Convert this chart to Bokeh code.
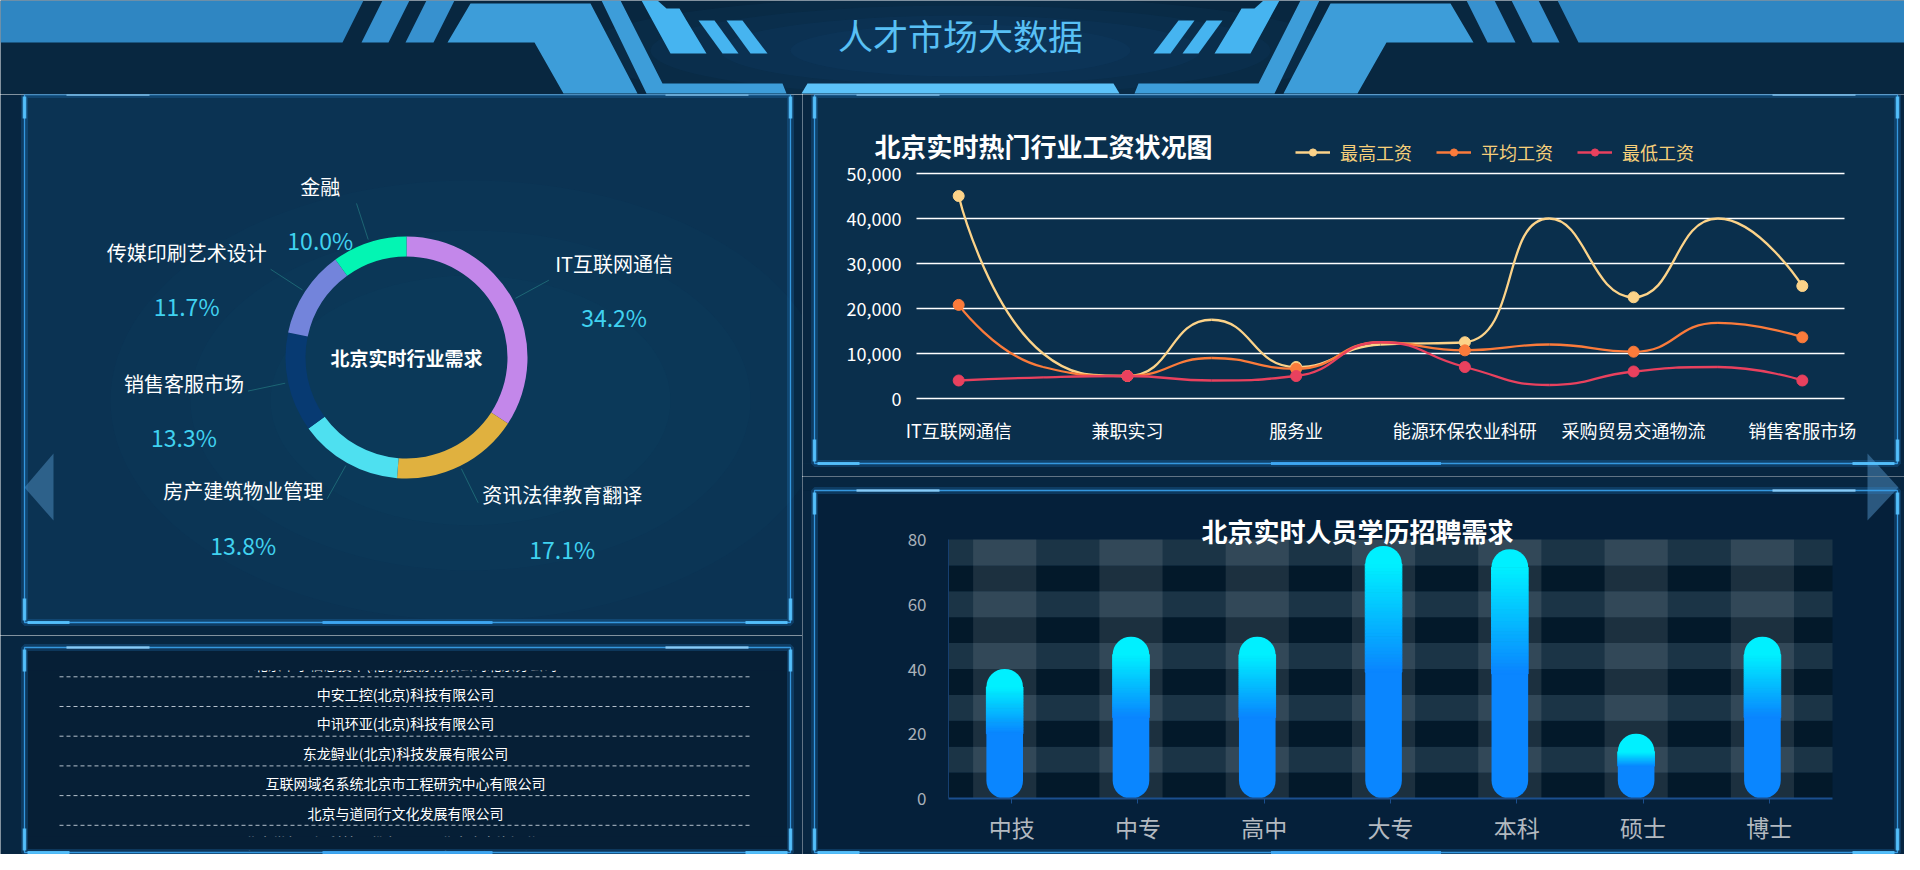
import math

from bokeh.core.properties import value
from bokeh.embed import file_html
from bokeh.layouts import column, row
from bokeh.models import (BoxAnnotation, FixedTicker, Label, Legend, LegendItem,
                          NumeralTickFormatter, PolyAnnotation, Range1d)
from bokeh.plotting import figure
from bokeh.resources import INLINE

FONT = "Noto Sans CJK SC"
PAGE_BG = "#072641"

# ---------------- data ----------------
page_title = "人才市场大数据"

industry_title = "北京实时行业需求"
industry_names = ["IT互联网通信", "资讯法律教育翻译", "房产建筑物业管理",
                  "销售客服市场", "传媒印刷艺术设计", "金融"]
industry_share = [34.2, 17.1, 13.8, 13.3, 11.7, 10.0]
industry_colors = ["#c387ea", "#e0b13f", "#4ee0f0", "#073a72", "#7384db", "#03f5b3"]

company_names = [
    "北京华宇信息技术(北京)股份有限公司北京分公司",
    "中安工控(北京)科技有限公司",
    "中讯环亚(北京)科技有限公司",
    "东龙鲟业(北京)科技发展有限公司",
    "互联网域名系统北京市工程研究中心有限公司",
    "北京与道同行文化发展有限公司",
    "北京世纪国源科技股份有限公司北京人力资源分公司",
]

salary_title = "北京实时热门行业工资状况图"
salary_categories = ["IT互联网通信", "金融", "兼职实习", "房产建筑物业管理", "服务业",
                     "传媒印刷艺术设计", "能源环保农业科研", "资讯法律教育翻译",
                     "采购贸易交通物流", "生产制造", "销售客服市场"]
salary_series = ["最高工资", "平均工资", "最低工资"]
salary_max = [45000, 10000, 5000, 17500, 7000, 12000, 12500, 40000, 22500, 40000, 25000]
salary_avg = [20800, 7000, 5000, 9000, 6600, 12500, 10700, 12000, 10400, 16800, 13600]
salary_min = [4000, 4700, 5000, 4000, 5000, 12500, 7000, 3000, 6000, 7000, 4000]
salary_colors = ["#fcd389", "#fb7b3b", "#e9415e"]
salary_ticks = [0, 10000, 20000, 30000, 40000, 50000]

edu_title = "北京实时人员学历招聘需求"
edu_levels = ["中技", "中专", "高中", "大专", "本科", "硕士", "博士"]
edu_demand = [40, 50, 50, 78, 77, 20, 50]
edu_ticks = [0, 20, 40, 60, 80]


# ---------------- helpers ----------------
def size_of(box):
    return box[2] - box[0], box[3] - box[1]


def screen_mapper(fig_box):
    # page pixel -> screen units of a figure whose frame fills the figure (y up)
    fx0, fy0, fx1, fy1 = fig_box
    h = fy1 - fy0

    def conv(X, Y):
        return X - fx0, h - (Y - fy0)
    return conv


def sbox(p, conv, x0, y0, x1, y1, **kw):
    l, t = conv(x0, y0)
    r, b = conv(x1, y1)
    p.add_layout(BoxAnnotation(left=l, right=r, top=t, bottom=b,
                               left_units="screen", right_units="screen",
                               top_units="screen", bottom_units="screen", **kw))


def spoly(p, conv, pts, color, alpha):
    xy = [conv(X, Y) for X, Y in pts]
    p.add_layout(PolyAnnotation(xs=[a for a, _ in xy], ys=[b for _, b in xy],
                                xs_units="screen", ys_units="screen",
                                fill_color=color, fill_alpha=alpha, line_color=None))


def cover_outside(p, conv, fig_box, pbox):
    fx0, fy0, fx1, fy1 = fig_box
    x0, y0, x1, y1 = pbox
    for r in [(fx0, fy0, fx1, y0), (fx0, y1, fx1, fy1), (fx0, y0, x0, y1), (x1, y0, fx1, y1)]:
        if r[2] > r[0] and r[3] > r[1]:
            sbox(p, conv, *r, fill_color=PAGE_BG, fill_alpha=1, line_color=None)


def panel_frame(p, conv, pbox):
    x0, y0, x1, y1 = pbox
    sbox(p, conv, x0, y0, x1, y1, fill_alpha=0, line_color="#2a8de0", line_alpha=0.22, line_width=7)
    sbox(p, conv, x0, y0, x1, y1, fill_alpha=0, line_color="#3aa2ec", line_alpha=0.9, line_width=1.3)
    acc = "#56c3ff"
    for xc in (x0, x1):
        sbox(p, conv, xc - 1.8, y0 + 2, xc + 1.8, y0 + 24, fill_color=acc, fill_alpha=0.9, line_color=None)
        sbox(p, conv, xc - 1.8, y1 - 24, xc + 1.8, y1 - 2, fill_color=acc, fill_alpha=0.9, line_color=None)
    sbox(p, conv, x0 + 42, y0 - 1.2, x0 + 125, y0 + 1.2, fill_color="#9ad8ff", fill_alpha=0.8, line_color=None)
    sbox(p, conv, x1 - 125, y0 - 1.2, x1 - 42, y0 + 1.2, fill_color="#9ad8ff", fill_alpha=0.8, line_color=None)
    sbox(p, conv, x0 + 3, y1 - 1.6, x0 + 45, y1 + 1.6, fill_color=acc, fill_alpha=0.9, line_color=None)
    sbox(p, conv, x1 - 45, y1 - 1.6, x1 - 3, y1 + 1.6, fill_color=acc, fill_alpha=0.9, line_color=None)
    mid = (x0 + x1) / 2
    sbox(p, conv, mid - 85, y1 - 1.6, mid + 85, y1 + 1.6, fill_color="#3fa9f5", fill_alpha=0.9, line_color=None)


def decor_fig(fig_box, bg):
    fx0, fy0, fx1, fy1 = fig_box
    w, h = size_of(fig_box)
    p = figure(width=w, height=h, x_range=Range1d(fx0, fx1),
               y_range=Range1d(fy1, fy0), x_axis_location=None, y_axis_location=None,
               title=None, output_backend="svg", toolbar_location=None, min_border=0)
    p.grid.visible = False
    p.outline_line_color = None
    p.background_fill_color = bg
    p.border_fill_color = bg
    return p


def chart_fig(fig_box, frame_box, xr, yr, bg):
    # the frame fills the figure; ranges are widened so that xr x yr lands on frame_box
    fx0, fy0, fx1, fy1 = fig_box
    w, h = size_of(fig_box)
    x0, y0, x1, y1 = frame_box
    pl, pr = x0 - fx0, x1 - fx0
    pt, pb = y0 - fy0, y1 - fy0
    ux = (xr[1] - xr[0]) / (pr - pl)
    uy = (yr[1] - yr[0]) / (pb - pt)
    p = figure(width=w, height=h,
               x_range=Range1d(xr[0] - pl * ux, xr[1] + (w - pr) * ux),
               y_range=Range1d(yr[0] - (h - pb) * uy, yr[1] + pt * uy),
               title=None, output_backend="svg", toolbar_location=None, min_border=0)
    p.background_fill_color = bg
    p.border_fill_color = bg
    p.outline_line_color = None
    p.grid.visible = False
    p.xaxis.fixed_location = yr[0]
    p.yaxis.fixed_location = xr[0]
    p.xaxis.bounds = xr
    p.yaxis.bounds = yr
    for ax in (p.xaxis, p.yaxis):
        ax.minor_tick_line_color = None
        ax.major_label_text_font = FONT
    return p, 1 / ux, 1 / uy


def text_width(s, size):
    return sum(size if ord(ch) > 0x2e80 else size * 0.56 for ch in s)


def smooth_beziers(ys, px_x, px_y, smooth=0.5):
    def clamp(v, a, b):
        return min(max(v, min(a, b)), max(a, b))
    pts = [(i * px_x, y * px_y) for i, y in enumerate(ys)]
    c_in, c_out = list(pts), list(pts)
    for i in range(1, len(pts) - 1):
        (xp, yp), (x, y), (xn, yn) = pts[i - 1], pts[i], pts[i + 1]
        vx, vy = xn - xp, yn - yp
        lp = math.hypot(x - xp, y - yp)
        ln = math.hypot(xn - x, yn - y)
        ratio = ln / (ln + lp)
        c1x = clamp(x + vx * smooth * ratio, x, xn)
        c1y = clamp(y + vy * smooth * ratio, y, yn)
        vx, vy = c1x - x, c1y - y
        c0x = clamp(x - vx * lp / ln, xp, x)
        c0y = clamp(y - vy * lp / ln, yp, y)
        vx, vy = x - c0x, y - c0y
        c1x, c1y = x + vx * ln / lp, y + vy * ln / lp
        c_in[i], c_out[i] = (c0x, c0y), (c1x, c1y)
    seg = dict(x0=[], y0=[], x1=[], y1=[], cx0=[], cy0=[], cx1=[], cy1=[])
    for i in range(len(pts) - 1):
        for k, (a, b) in zip(["0", "1"], [pts[i], pts[i + 1]]):
            seg["x" + k].append(a / px_x)
            seg["y" + k].append(b / px_y)
        seg["cx0"].append(c_out[i][0] / px_x)
        seg["cy0"].append(c_out[i][1] / px_y)
        seg["cx1"].append(c_in[i + 1][0] / px_x)
        seg["cy1"].append(c_in[i + 1][1] / px_y)
    return seg


# page pixels, 1904 x 854 in all
HEAD_BOX = (0, 0, 1904, 94)
DONUT_BOX = (0, 94, 802, 635)
TABLE_BOX = (0, 635, 802, 854)
LINE_BOX = (802, 94, 1904, 476)
BAR_BOX = (802, 476, 1904, 854)

# ---------------- header ----------------
hp = decor_fig(HEAD_BOX, "#082740")
for w, h in [(760, 110), (620, 90), (480, 70), (340, 52)]:
    hp.ellipse(x=960, y=50, width=w, height=h, fill_color="#2a7fc4", fill_alpha=0.05, line_color=None)

left_shapes = [
    ([0, 363, 342, 0], [0, 0, 42, 42], "#2f86c2"),
    ([382, 409, 388, 361], [0, 0, 42, 42], "#3791cf"),
    ([426, 454, 433, 405], [0, 0, 42, 42], "#3791cf"),
    ([470, 590, 637, 563, 534, 447], [3, 3, 93, 93, 42, 42], "#3d9dd9"),
    ([601, 620, 662, 782, 786, 646], [0, 0, 83, 83, 93, 93], "#3d9dd9"),
    ([641, 657, 666, 679, 686, 706, 670], [0, 0, 8, 8, 20, 53, 53], "#46b4f0"),
    ([698, 714, 738, 722], [20, 20, 53, 53], "#46b4f0"),
    ([726, 742, 767, 750], [20, 20, 53, 53], "#46b4f0"),
]
for xs, ys, c in left_shapes:
    hp.patch(xs, ys, fill_color=c, line_color=None)
    hp.patch([1920 - x for x in xs], ys, fill_color=c, line_color=None)
hp.patch([807, 1113, 1119, 801], [83, 83, 93, 93], fill_color="#5cc2f8", line_color=None)
hp.text(x=[960], y=[34], text=[page_title], text_font=value(FONT), text_font_size="35px",
        text_color="#58c0f5", text_align="center", text_baseline="middle")

# ---------------- donut panel ----------------
DONUT_PANEL = (24, 94, 790, 622)
dp = decor_fig(DONUT_BOX, PAGE_BG)
dconv = screen_mapper(DONUT_BOX)
dp.quad(left=DONUT_PANEL[0], right=DONUT_PANEL[2], top=DONUT_PANEL[1], bottom=DONUT_PANEL[3],
        fill_color="#0b3353", line_color=None)
for w, h in [(720, 440), (560, 340), (400, 250)]:
    dp.ellipse(x=470, y=400, width=w, height=h, fill_color="#1a5a8a", fill_alpha=0.05, line_color=None)

cx, cy = 406, 357
total = sum(industry_share)
starts, ends, mids = [], [], []
acc = 0.0
for s in industry_share:
    a0 = 90 - acc / total * 360
    acc += s
    a1 = 90 - acc / total * 360
    starts.append(math.radians(a0))
    ends.append(math.radians(a1))
    mids.append(math.radians((a0 + a1) / 2))
dp.annular_wedge(x=cx, y=cy, inner_radius=101, outer_radius=121,
                 inner_radius_units="screen", outer_radius_units="screen",
                 start_angle=starts, end_angle=ends, direction="clock",
                 fill_color=industry_colors, line_color=None)
dp.text(x=[cx], y=[cy], text=[industry_title], text_font=value(FONT), text_font_size="19px",
        text_font_style="bold", text_color="white", text_align="center", text_baseline="middle")

lx0, ly0, lx1, ly1 = [], [], [], []
nx, ny, px_, py_, ptxt = [], [], [], [], []
for name, share, m in zip(industry_names, industry_share, mids):
    c, s = math.cos(m), math.sin(m)
    lx0.append(cx + 124 * c)
    ly0.append(cy - 124 * s)
    ex, ey = cx + 162 * c, cy - 162 * s
    lx1.append(ex)
    ly1.append(ey)
    pct = f"{share:.1f}%"
    bw = max(text_width(name, 20), text_width(pct, 23))
    bx = ex + 4 + bw / 2 if c > 0 else ex - 4 - bw / 2
    dy = -17 if s > 0 else -8
    nx.append(bx)
    ny.append(ey + dy)
    px_.append(bx)
    py_.append(ey + dy + 54)
    ptxt.append(pct)
dp.segment(x0=lx0, y0=ly0, x1=lx1, y1=ly1, line_color="#2b8c8c", line_alpha=0.55, line_width=1)
dp.text(x=nx, y=ny, text=industry_names, text_font=value(FONT), text_font_size="20px",
        text_color="white", text_align="center", text_baseline="middle")
dp.text(x=px_, y=py_, text=ptxt, text_font=value(FONT), text_font_size="23px",
        text_color="#40d2f0", text_align="center", text_baseline="middle")
spoly(dp, dconv, [(53, 453), (24, 487), (53, 520)], "#4a86b8", 0.55)
panel_frame(dp, dconv, DONUT_PANEL)

# ---------------- company list panel ----------------
TABLE_PANEL = (24, 647, 790, 852)
TABLE_FILL = "#061f36"
tp = decor_fig(TABLE_BOX, PAGE_BG)
tconv = screen_mapper(TABLE_BOX)
tp.quad(left=TABLE_PANEL[0], right=TABLE_PANEL[2], top=TABLE_PANEL[1], bottom=TABLE_PANEL[3],
        fill_color=TABLE_FILL, line_color=None)
row_y = [663.5 + 29.7 * i for i in range(len(company_names))]
tp.text(x=[405] * len(company_names), y=row_y, text=company_names, text_font=value(FONT),
        text_font_size="14px", text_color="white", text_align="center", text_baseline="middle")
tp.quad(left=TABLE_PANEL[0] + 2, right=TABLE_PANEL[2] - 2, top=TABLE_PANEL[1] + 2, bottom=670,
        fill_color=TABLE_FILL, line_color=None)
tp.quad(left=TABLE_PANEL[0] + 2, right=TABLE_PANEL[2] - 2, top=836, bottom=TABLE_PANEL[3] - 2,
        fill_color=TABLE_FILL, line_color=None)
line_y = [y + 12.8 for y in row_y[:-1]]
tp.segment(x0=[59] * len(line_y), x1=[752] * len(line_y), y0=line_y, y1=line_y,
           line_color="#b4c0cc", line_width=1, line_dash="4 3")
panel_frame(tp, tconv, TABLE_PANEL)

# ---------------- salary line chart ----------------
LINE_PANEL = (814, 94, 1897, 463)
LINE_FILL = "#0a2f4c"
nc = len(salary_categories)
lp, lppx, lppy = chart_fig(LINE_BOX, (916, 173, 1844, 398),
                           (-0.5, nc - 0.5), (0, 50000), LINE_FILL)
lp.segment(x0=-0.5, x1=nc - 0.5, y0=salary_ticks[1:], y1=salary_ticks[1:],
           line_color="white", line_width=1.4)
lp.yaxis.ticker = FixedTicker(ticks=salary_ticks)
lp.yaxis.formatter = NumeralTickFormatter(format="0,0")
lp.yaxis.axis_line_color = None
lp.yaxis.major_tick_line_color = None
lp.yaxis.major_label_standoff = 9
lp.xaxis.ticker = FixedTicker(ticks=list(range(0, nc, 2)))
lp.xaxis.major_label_overrides = {i: salary_categories[i] for i in range(0, nc, 2)}
lp.xaxis.axis_line_color = "white"
lp.xaxis.axis_line_width = 1.6
lp.xaxis.major_tick_line_color = None
lp.xaxis.major_label_standoff = 12
for ax in (lp.xaxis, lp.yaxis):
    ax.major_label_text_color = "white"
    ax.major_label_text_font_size = "18px"

items = []
for name, vals, col in zip(salary_series, [salary_max, salary_avg, salary_min], salary_colors):
    seg = smooth_beziers(vals, lppx, lppy)
    lp.bezier(line_color=col, line_width=2.3, **seg)
    even = list(range(0, nc, 2))
    mk = lp.scatter(x=even, y=[vals[i] for i in even], size=11, marker="circle",
                    fill_color=col, line_color=col)
    key_line = lp.line(x=[math.nan], y=[math.nan], line_color=col, line_width=2.3)
    items.append(LegendItem(label=name, renderers=[key_line, mk]))

lconv = screen_mapper(LINE_BOX)
cover_outside(lp, lconv, LINE_BOX, LINE_PANEL)
spoly(lp, lconv, [(1867, 453), (1898, 487), (1867, 520)], "#4a86b8", 0.55)
panel_frame(lp, lconv, LINE_PANEL)
tx, ty = lconv(874, 145)
lp.add_layout(Label(x=tx, y=ty, x_units="screen", y_units="screen", text=salary_title,
                    text_font=FONT, text_font_size="26px", text_font_style="bold",
                    text_color="white", text_align="left", text_baseline="middle"))
gx, gy = lconv(1295, 165)
legend = Legend(items=items, location=(gx, gy), orientation="horizontal",
                background_fill_alpha=0, border_line_color=None, padding=0, margin=0,
                spacing=24, glyph_width=35, glyph_height=18, label_standoff=10,
                label_text_color="#f7cf7a", label_text_font=FONT, label_text_font_size="18px")
lp.add_layout(legend, "center")

# ---------------- education bar chart ----------------
BAR_PANEL = (814, 490, 1897, 852)
BAR_FILL = "#05203a"
ne = len(edu_levels)
bp, bppx, bppy = chart_fig(BAR_BOX, (948, 539, 1832, 798),
                           (-0.5, ne - 0.5), (0, 80), BAR_FILL)

band_lo = list(range(0, 80, 8))
bp.quad(left=-0.5, right=ne - 0.5, bottom=band_lo, top=[b + 8 for b in band_lo],
        fill_color=["#1b3446" if (b // 8) % 2 else "#03192a" for b in band_lo], line_color=None)
xs = list(range(ne))
shift = -0.055
bp.vbar(x=[x + shift for x in xs], width=0.5, bottom=0, top=80, fill_color="white",
        fill_alpha=0.1, line_color=None)

bar_w = 0.29
rad = int(round(bar_w * bppx / 2))
cap = rad / bppy
blue, cyan = (10, 132, 255), (0, 240, 255)
bp.vbar(x=[x + shift for x in xs], width=bar_w, bottom=0, top=[v * 0.5 + 0.3 for v in edu_demand],
        fill_color="#0a86ff", line_color=None, border_radius=(0, 0, rad, rad))
sx_, sb, st, sc = [], [], [], []
nslice = 30
for x, v in zip(xs, edu_demand):
    g0, g1 = v * 0.5, v - cap
    step = (g1 - g0) / nslice
    for k in range(nslice):
        t = (k + 0.5) / nslice
        rgb = tuple(round(b + (c - b) * t) for b, c in zip(blue, cyan))
        sx_.append(x + shift)
        sb.append(g0 + k * step)
        st.append(g0 + (k + 1) * step)
        sc.append("#%02x%02x%02x" % rgb)
bp.vbar(x=sx_, width=bar_w, bottom=sb, top=st, fill_color=sc, line_color=sc, line_width=1)
bp.vbar(x=[x + shift for x in xs], width=bar_w, bottom=[v - cap - 0.1 for v in edu_demand],
        top=edu_demand, fill_color="#00f0ff", line_color=None, border_radius=(rad, rad, 0, 0))

bp.xaxis.ticker = FixedTicker(ticks=xs)
bp.xaxis.major_label_overrides = {i: n for i, n in enumerate(edu_levels)}
bp.xaxis.axis_line_color = "#1b4f8e"
bp.xaxis.axis_line_width = 2
bp.xaxis.major_tick_line_color = "#1b4f8e"
bp.xaxis.major_tick_out = 5
bp.xaxis.major_tick_in = 0
bp.xaxis.major_label_standoff = 6
bp.xaxis.major_label_text_color = "#b3b9c0"
bp.xaxis.major_label_text_font_size = "23px"
bp.yaxis.ticker = FixedTicker(ticks=edu_ticks)
bp.yaxis.axis_line_color = "#163f70"
bp.yaxis.major_tick_line_color = None
bp.yaxis.major_label_standoff = 16
bp.yaxis.major_label_text_color = "#a9b1b9"
bp.yaxis.major_label_text_font_size = "17px"

bconv = screen_mapper(BAR_BOX)
cover_outside(bp, bconv, BAR_BOX, BAR_PANEL)
spoly(bp, bconv, [(1867, 453), (1898, 487), (1867, 520)], "#4a86b8", 0.55)
panel_frame(bp, bconv, BAR_PANEL)
tx, ty = bconv(1357, 530)
bp.add_layout(Label(x=tx, y=ty, x_units="screen", y_units="screen", text=edu_title,
                    text_font=FONT, text_font_size="26px", text_font_style="bold",
                    text_color="white", text_align="center", text_baseline="middle"))

page = column(hp, row(column(dp, tp), column(lp, bp)))
open("out.html", "w").write(file_html(page, INLINE, title=page_title))
